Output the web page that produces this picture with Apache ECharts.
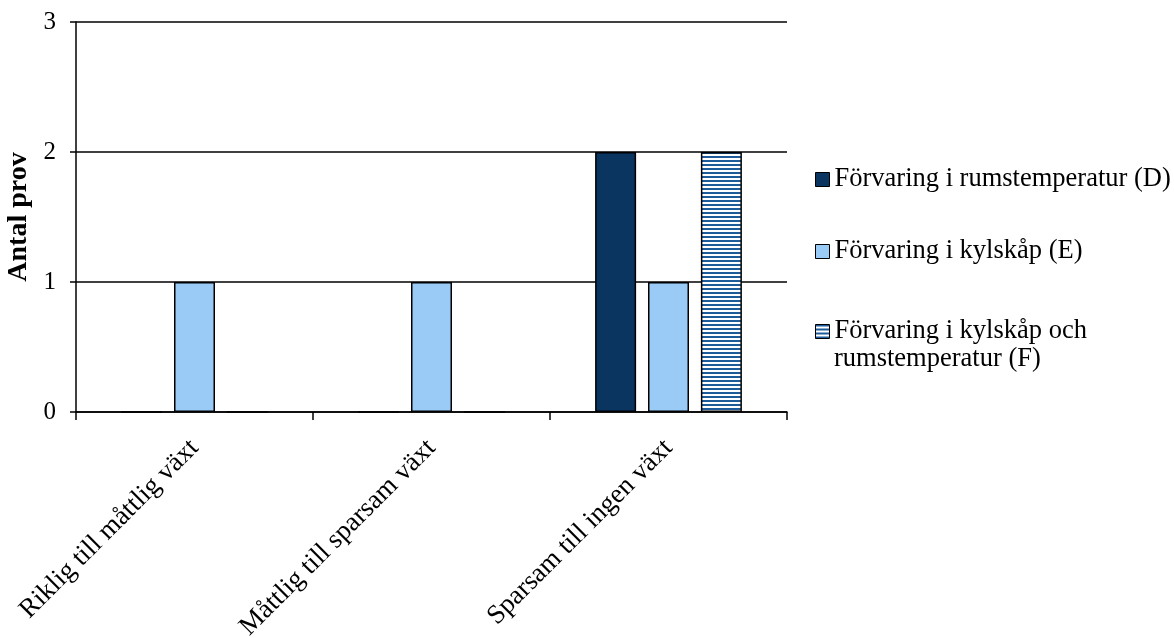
<!DOCTYPE html>
<html>
<head>
<meta charset="utf-8">
<script src="https://cdn.jsdelivr.net/npm/echarts@6/dist/echarts.min.js"></script>
<style>
  html, body { margin: 0; padding: 0; background: #fff; }
  #chart { width: 1174px; height: 638px; }
</style>
</head>
<body>
<div id="chart"></div>
<script>
// Growth categories on the x axis
const categories = ['Riklig till måttlig växt', 'Måttlig till sparsam växt', 'Sparsam till ingen växt'];
// Series names
const nameD = 'Förvaring i rumstemperatur (D)';
const nameE = 'Förvaring i kylskåp (E)';
const nameF = 'Förvaring i kylskåp och rumstemperatur (F)';
// Number of samples per category
const valuesD = [0, 0, 2];
const valuesE = [1, 1, 1];
const valuesF = [0, 0, 2];
// Y axis ticks
const yTicks = [0, 1, 2, 3];

const FONT = 'Liberation Serif';

// Horizontal stripe fill for series F
function stripePattern() {
  const c = document.createElement('canvas');
  c.width = 4; c.height = 4;
  const ctx = c.getContext('2d');
  ctx.fillStyle = '#ffffff';
  ctx.fillRect(0, 0, 4, 4);
  ctx.fillStyle = '#1d5b9b';
  ctx.fillRect(0, 0, 4, 2);
  return c;
}
const stripes = { image: stripePattern(), repeat: 'repeat' };

const chart = echarts.init(document.getElementById('chart'), null, { renderer: 'canvas' });

function legendAt(name, top, formatter) {
  return {
    data: [name],
    orient: 'vertical',
    left: 815,
    top: top,
    icon: 'rect',
    itemWidth: 14,
    itemHeight: 14,
    itemGap: 0,
    padding: 0,
    selectedMode: false,
    itemStyle: { borderColor: '#000', borderWidth: 1 },
    textStyle: { fontFamily: FONT, fontSize: 26.5, color: '#000' },
    formatter: formatter
  };
}

const barBorder = { borderColor: '#000', borderWidth: 1.5 };

chart.setOption({
  animation: false,
  backgroundColor: '#fff',
  grid: { left: 76, right: 387, top: 22, bottom: 226, containLabel: false, outerBoundsMode: 'none' },
  legend: [
    legendAt(nameD, 166),
    legendAt(nameE, 238),
    legendAt(nameF, 318, function () { return 'Förvaring i kylskåp och'; })
  ],
  graphic: [{
    type: 'text',
    left: 834,
    top: 346,
    style: { text: 'rumstemperatur (F)', font: '26.5px "Liberation Serif"', fill: '#000' }
  }],
  xAxis: {
    type: 'category',
    data: categories,
    axisLine: { lineStyle: { color: '#000', width: 1.5 } },
    axisTick: { show: true, length: 8, lineStyle: { color: '#000', width: 1.5 } },
    axisLabel: {
      rotate: 45,
      margin: 32,
      interval: 0,
      fontFamily: FONT,
      fontSize: 27,
      color: '#000'
    }
  },
  yAxis: {
    type: 'value',
    min: yTicks[0],
    max: yTicks[yTicks.length - 1],
    interval: 1,
    name: 'Antal prov',
    nameLocation: 'middle',
    nameGap: 42,
    nameTextStyle: { fontFamily: FONT, fontSize: 28, fontWeight: 'bold', color: '#000' },
    axisLine: { show: true, lineStyle: { color: '#000', width: 1.5 } },
    axisTick: { show: true, length: 6, lineStyle: { color: '#000', width: 1.5 } },
    axisLabel: { margin: 20, fontFamily: FONT, fontSize: 25, color: '#000' },
    splitLine: { show: true, lineStyle: { color: '#000', width: 1.5 } }
  },
  series: [
    { name: nameD, type: 'bar', data: valuesD, barWidth: 41, barGap: '29%',
      itemStyle: Object.assign({ color: '#0a3560' }, barBorder) },
    { name: nameE, type: 'bar', data: valuesE, barWidth: 41, barGap: '29%',
      itemStyle: Object.assign({ color: '#99cbf6' }, barBorder) },
    { name: nameF, type: 'bar', data: valuesF, barWidth: 41, barGap: '29%',
      itemStyle: Object.assign({ color: stripes }, barBorder) }
  ]
});
</script>
</body>
</html>
